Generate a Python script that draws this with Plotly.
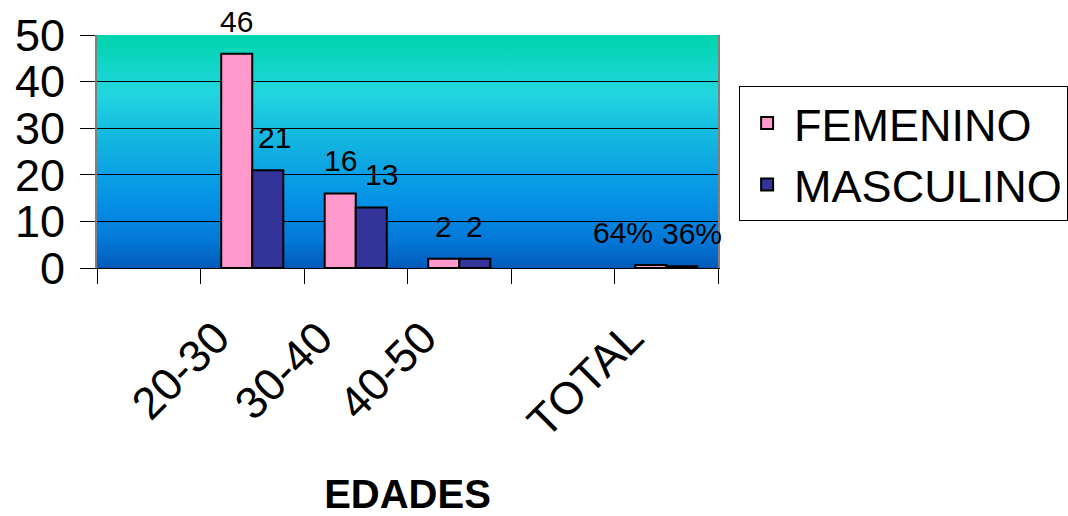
import base64
import plotly.graph_objects as go

# ---- data ----
categories = [" ", "20-30", "30-40", "40-50", "  ", "TOTAL"]
femenino = [None, 46, 16, 2, None, 0.64]
masculino = [None, 21, 13, 2, None, 0.36]
fem_labels = [None, "46", "16", "2", None, "64%"]
mas_labels = [None, "21", "13", "2", None, "36%"]
y_ticks = [0, 10, 20, 30, 40, 50]

FONT = "Arial, Liberation Sans, sans-serif"
PINK = "#FF99CC"
NAVY = "#333399"

# vertical gradient background for the plot area (style only)
svg = (
    "<svg xmlns='http://www.w3.org/2000/svg' width='10' height='100' viewBox='0 0 10 100' "
    "preserveAspectRatio='none'><defs><linearGradient id='g' x1='0' y1='0' x2='0' y2='1'>"
    "<stop offset='0' stop-color='#00D4AC'/>"
    "<stop offset='0.25' stop-color='#22D6E0'/>"
    "<stop offset='0.5' stop-color='#10AEE0'/>"
    "<stop offset='0.72' stop-color='#0490E6'/>"
    "<stop offset='0.88' stop-color='#0478D8'/>"
    "<stop offset='1' stop-color='#005AB8'/>"
    "</linearGradient></defs><rect width='10' height='100' fill='url(#g)'/></svg>"
)
bg_uri = "data:image/svg+xml;base64," + base64.b64encode(svg.encode()).decode()

fig = go.Figure()
fig.add_trace(go.Bar(name="FEMENINO", x=categories, y=femenino,
                     marker=dict(color=PINK, line=dict(color="black", width=2))))
fig.add_trace(go.Bar(name="MASCULINO", x=categories, y=masculino,
                     marker=dict(color=NAVY, line=dict(color="black", width=2))))

annotations = []
# value labels above bars
nudges = {(1, "20-30"): 7, (1, "30-40"): 10, (0, "TOTAL"): -28, (1, "TOTAL"): 10}
for si, (vals, labs) in enumerate([(femenino, fem_labels), (masculino, mas_labels)]):
    base_shift = -15.5 if si == 0 else 15.5
    for cat, v, lab in zip(categories, vals, labs):
        if v is None:
            continue
        annotations.append(dict(
            x=cat, y=v, xref="x", yref="y", text=lab, showarrow=False,
            xanchor="center", yanchor="bottom",
            xshift=base_shift + nudges.get((si, cat), 0), yshift=14,
            font=dict(family=FONT, size=30, color="black")))

# rotated category labels
for cat in categories:
    if not cat.strip():
        continue
    annotations.append(dict(
        x=cat, y=-0.176, xref="x", yref="paper", text=cat, showarrow=False,
        textangle=-45, xanchor="right", yanchor="top", xshift=-10.5,
        font=dict(family=FONT, size=45, color="black")))

fig.update_layout(
    width=1068, height=516,
    margin=dict(l=97, r=350, t=35, b=248, autoexpand=False),
    paper_bgcolor="white",
    plot_bgcolor="rgba(0,0,0,0)",
    barmode="group", bargap=0.40, bargroupgap=0,
    font=dict(family=FONT, color="black"),
    showlegend=True,
    legend=dict(x=1.034, y=0.78, xanchor="left", yanchor="top",
                bgcolor="white", bordercolor="black", borderwidth=1,
                font=dict(family=FONT, size=45, color="black"),
                itemwidth=44, traceorder="normal"),
    images=[dict(source=bg_uri, xref="paper", yref="paper", x=0, y=1,
                 sizex=1, sizey=1, xanchor="left", yanchor="top",
                 sizing="stretch", layer="below")],
    annotations=annotations,
    xaxis=dict(type="category", categoryorder="array", categoryarray=categories,
               range=[-0.5, 5.5], showticklabels=False, automargin=False,
               ticks="outside", tickson="boundaries", ticklen=15,
               tickcolor="black", tickwidth=1,
               showline=True, linecolor="black", linewidth=1, showgrid=False,
               title=dict(text="<b>EDADES</b>", standoff=219,
                          font=dict(family=FONT, size=40, color="black"))),
    yaxis=dict(range=[0, 50], tickvals=y_ticks, ticks="outside", ticklen=15,
               tickcolor="black", tickwidth=1, automargin=False,
               tickfont=dict(family=FONT, size=45, color="black"),
               ticklabelstandoff=6,
               showgrid=True, gridcolor="black", gridwidth=1,
               showline=True, linecolor="#808080", linewidth=2, mirror=True,
               zeroline=False),
)

# remove the default page margin so the figure fills the 1068x516 window exactly
fig.write_html("out.html", config={"displayModeBar": False},
               post_script="document.body.style.margin='0px';")
